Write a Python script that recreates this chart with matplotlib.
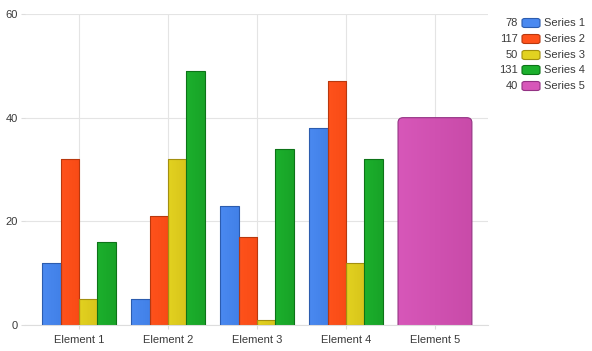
import numpy as np
import matplotlib
matplotlib.use("Agg")
import matplotlib.pyplot as plt
from matplotlib.colors import LinearSegmentedColormap
from matplotlib.patches import FancyBboxPatch

plt.rcParams["font.family"] = ["Liberation Sans", "DejaVu Sans"]

categories = ["Element 1", "Element 2", "Element 3", "Element 4", "Element 5"]
series_names = ["Series 1", "Series 2", "Series 3", "Series 4", "Series 5"]
s1 = [12, 5, 23, 38, 0]
s2 = [32, 21, 17, 47, 0]
s3 = [5, 32, 1, 12, 0]
s4 = [16, 49, 34, 32, 0]
s5 = [0, 0, 0, 0, 40]
series = [s1, s2, s3, s4, s5]
totals = [sum(s) for s in series]

# (left colour, right colour, edge)
colors = [("#4a89f0", "#4281e8", "#2c5cae"),
          ("#ff521b", "#f84b16", "#b8380e"),
          ("#e2d220", "#d8c41b", "#a38f0f"),
          ("#1cb02d", "#18a327", "#0d7318"),
          ("#d757b9", "#c94ba9", "#933283")]

W, H = 592, 351
fig = plt.figure(figsize=(W / 100, H / 100), dpi=100)
ax = fig.add_axes([25 / W, (H - 325) / H, (488 - 25) / W, (325 - 14) / H])

x = np.arange(len(categories))
ax.set_xlim(-0.607, 4.596)
ax.set_ylim(0, 60)

group_w = 0.83
bw = group_w / 4


def gradient_fill(patch, extent, c0, c1):
    cmap = LinearSegmentedColormap.from_list("g", [c0, c1])
    im = ax.imshow(np.linspace(0, 1, 64).reshape(1, -1), cmap=cmap, aspect="auto",
                   extent=extent, zorder=2.5)
    im.set_clip_path(patch)


for i, s in enumerate(series[:4]):
    c0, c1, ec = colors[i]
    bars = ax.bar(x[:4] - group_w / 2 + bw * (i + 0.5), s[:4], width=bw,
                  color=c0, edgecolor=ec, linewidth=0.8, zorder=3)
    for b in bars:
        b.set_facecolor("none")
        gradient_fill(b, [b.get_x(), b.get_x() + b.get_width(), 0, b.get_height()], c0, c1)

# single wide bar for Series 5 with rounded top corners
c0, c1, ec = colors[4]
b5 = ax.bar(x[4], s5[4], width=group_w, color="none", linewidth=0)[0]
bx, bwid, bh = b5.get_x(), b5.get_width(), b5.get_height()
xs_per_px = (4.596 + 0.607) / (488 - 25)
ys_per_px = 60 / (325 - 14)
rad = 5 * xs_per_px
rb = FancyBboxPatch((bx + rad, -10), bwid - 2 * rad, bh + 10 - 5 * ys_per_px,
                    boxstyle=f"round,pad={rad}", mutation_aspect=ys_per_px / xs_per_px,
                    facecolor="none", edgecolor=ec, linewidth=0.8, zorder=3)
ax.add_patch(rb)
gradient_fill(rb, [bx, bx + bwid, 0, bh], c0, c1)

ax.set_xticks(x)
ax.set_xticklabels(categories, fontsize=8, color="#3a3a3a")
ax.set_yticks([0, 20, 40, 60])
ax.set_yticklabels(["0", "20", "40", "60"], fontsize=8, color="#3a3a3a")
ax.tick_params(axis="y", length=3, color="#dddddd", pad=2)
ax.tick_params(axis="x", length=3, color="#dddddd", pad=4)
ax.grid(True, color="#e4e4e4", linewidth=0.8, zorder=0)
ax.set_axisbelow(True)
for sp in ["top", "right", "left"]:
    ax.spines[sp].set_visible(False)
ax.spines["bottom"].set_color("#dddddd")

# legend with totals
ys = [23, 39, 55, 70, 86]
for i, name in enumerate(series_names):
    yf = 1 - ys[i] / H
    fig.text(518 / W, yf, str(totals[i]), ha="right", va="center", fontsize=8, color="#3a3a3a")
    sw = FancyBboxPatch((522 / W, yf - 4.5 / H), 18 / W, 9 / H,
                        boxstyle="round,pad=0,rounding_size=0.005",
                        transform=fig.transFigure, facecolor=colors[i][0],
                        edgecolor=colors[i][2], linewidth=0.8)
    fig.patches.append(sw)
    fig.text(544 / W, yf, name, ha="left", va="center", fontsize=8, color="#3a3a3a")

fig.savefig("out.png", dpi=100)
